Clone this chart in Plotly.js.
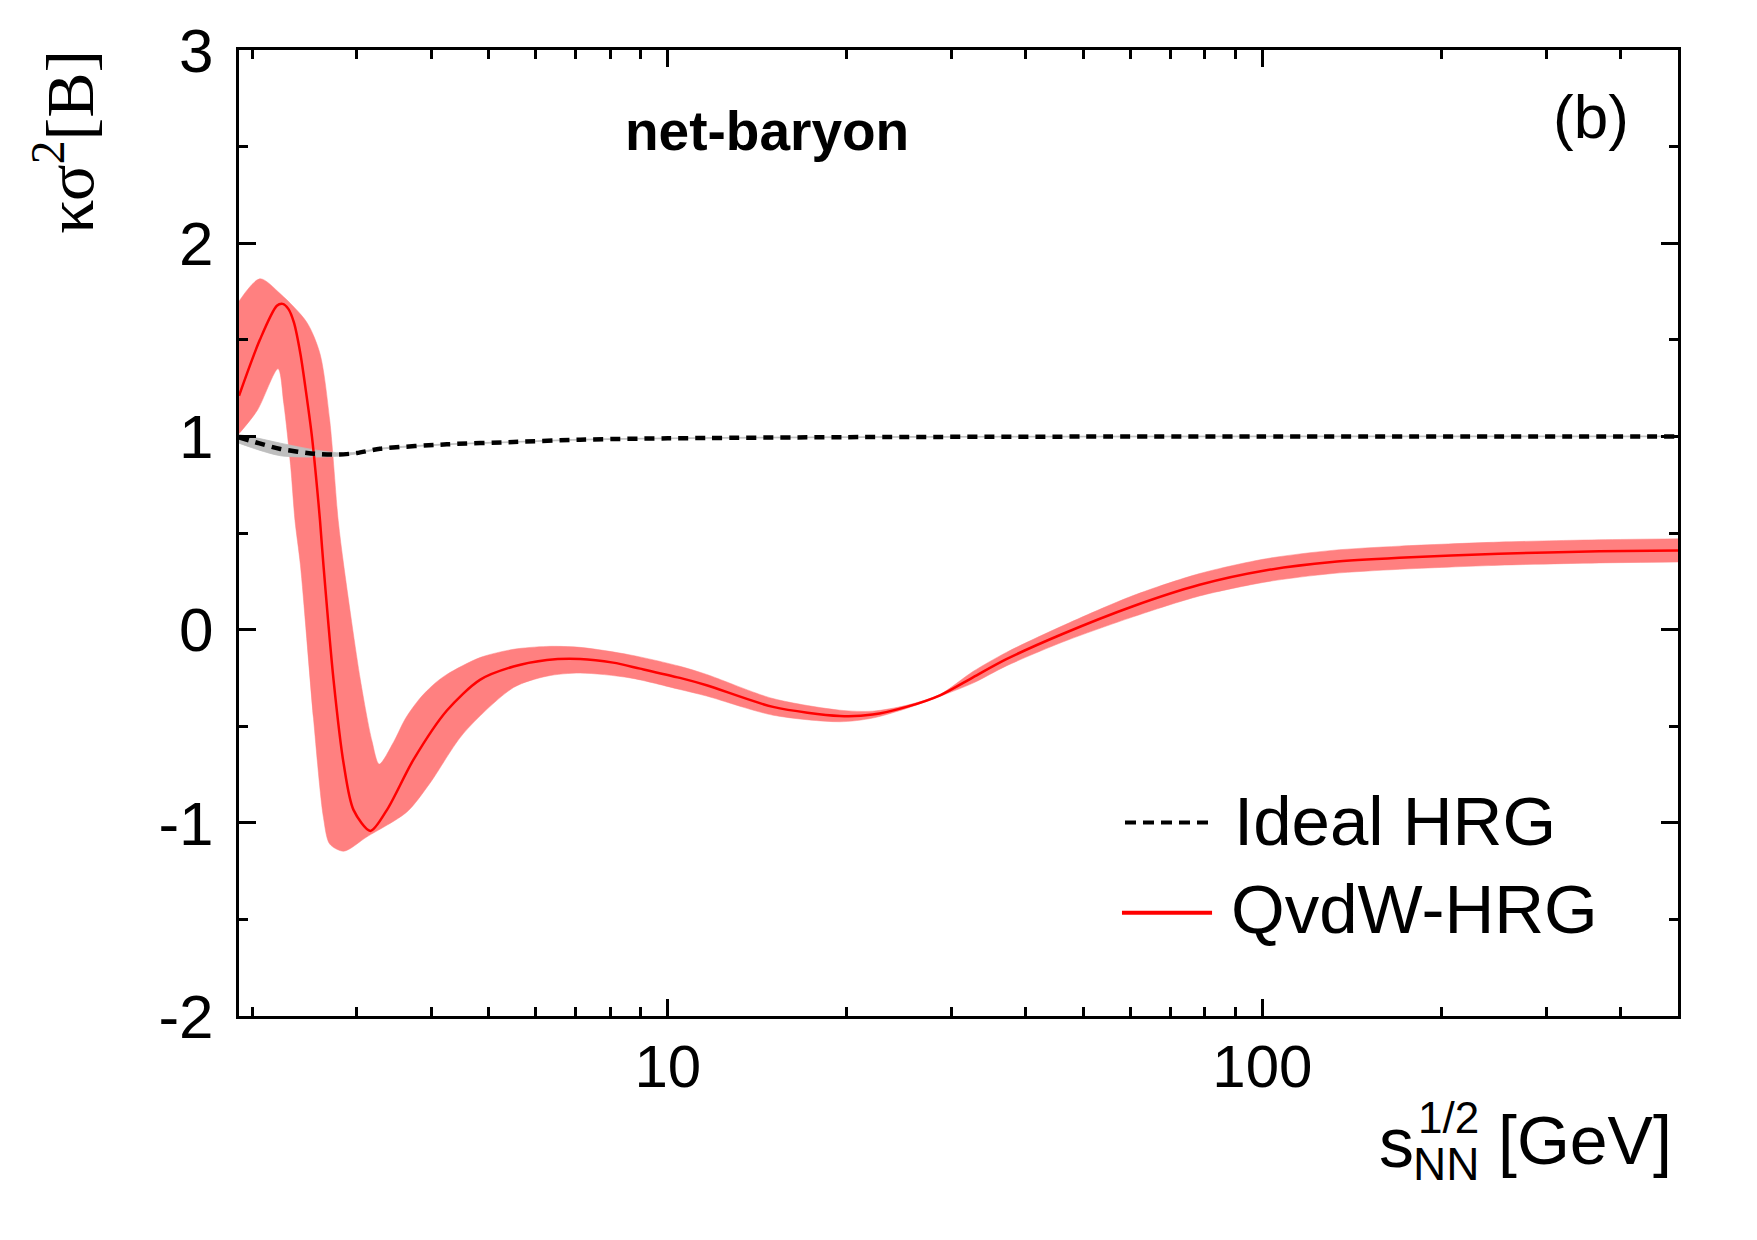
<!DOCTYPE html>
<html>
<head>
<meta charset="utf-8">
<script src="https://cdn.plot.ly/plotly-3.0.1.min.js"></script>
<style>
  html, body { margin: 0; padding: 0; background: #fff; }
  #chart { width: 1757px; height: 1240px; }
</style>
</head>
<body>
<div id="chart"></div>
<script>
// Collision energy sqrt(s_NN) in GeV and kurtosis ratio kappa*sigma^2 of net-baryon fluctuations

// QvdW-HRG central curve
const qvdwX = [1.9, 2.06, 2.2, 2.25, 2.3, 2.35, 2.41, 2.47, 2.52, 2.57, 2.6, 2.635, 2.74, 2.85, 2.96, 3.16, 3.37, 3.73,
  4.25, 4.83, 5.5, 6.26, 7.12, 8.09, 8.98, 10.48, 11.62, 15.03, 19.46, 22.1, 25.2, 28.7, 32.6, 37.1, 46,
  60.6, 78.4, 101.5, 131, 170, 250, 368.6, 500];
const qvdwY = [1.21, 1.50, 1.676, 1.686, 1.66, 1.59, 1.428, 1.203, 1.0, 0.738, 0.565, 0.334, -0.26, -0.696, -0.933, -1.042, -0.933, -0.676,
  -0.419, -0.26, -0.191, -0.157, -0.152, -0.171, -0.202, -0.25, -0.288, -0.40, -0.447, -0.44, -0.40, -0.34, -0.247, -0.153, -0.024,
  0.121, 0.232, 0.307, 0.35, 0.372, 0.393, 0.405, 0.41];

// QvdW-HRG uncertainty band: upper edge
const qvdwUpX = [1.9, 2.06, 2.23, 2.47, 2.6, 2.7, 2.79, 2.85, 3.04, 3.18, 3.27, 3.46, 3.62, 3.83, 4.05, 4.25, 4.83, 5.5, 6.26,
  7.12, 8.64, 10.48, 11.62, 15.03, 19.46, 22.1, 25.2, 28.7, 32.6, 37.1, 46, 60.6, 78.4, 101.5, 131, 170, 250, 368.6, 500];
const qvdwUpY = [1.70, 1.816, 1.738, 1.591, 1.428, 1.083, 0.565, 0.334, -0.26, -0.577, -0.696, -0.58, -0.46, -0.355, -0.28, -0.232, -0.145, -0.102, -0.087,
  -0.092, -0.131, -0.19, -0.232, -0.357, -0.417, -0.422, -0.392, -0.335, -0.217, -0.118, 0.018, 0.176, 0.29, 0.367, 0.41, 0.432, 0.453, 0.465, 0.47];

// QvdW-HRG uncertainty band: lower edge
const qvdwLoX = [1.9, 2.04, 2.21, 2.26, 2.32, 2.36, 2.41, 2.535, 2.635, 2.7, 2.85, 3.12, 3.64, 3.98, 4.53, 5.5, 6.26,
  7.12, 8.64, 10.48, 11.62, 15.03, 19.46, 22.1, 25.2, 28.7, 32.6, 37.1, 46, 60.6, 78.4, 101.5, 131, 170, 250, 368.6, 500];
const qvdwLoY = [1.014, 1.135, 1.35, 1.169, 0.85, 0.565, 0.334, -0.458, -0.973, -1.11, -1.147, -1.072, -0.944, -0.795, -0.538, -0.30, -0.241,
  -0.225, -0.25, -0.31, -0.344, -0.443, -0.477, -0.458, -0.408, -0.345, -0.277, -0.188, -0.066, 0.066, 0.174, 0.247, 0.29, 0.312, 0.333, 0.345, 0.35];

// Ideal HRG curve and its band
const idealX  = [1.9, 2.05, 2.23, 2.55, 2.8, 3.0, 3.28, 4.25, 5.5, 7.12, 10, 20, 50, 100, 500];
const idealY  = [0.995, 0.965, 0.935, 0.91, 0.906, 0.914, 0.936, 0.959, 0.971, 0.983, 0.99, 0.996, 0.999, 1.0, 1.0];
const idealUp = [1.01, 0.99, 0.965, 0.93, 0.915, 0.918, 0.939, 0.961, 0.973, 0.985, 0.992, 0.998, 1.001, 1.002, 1.002];
const idealLo = [0.965, 0.93, 0.90, 0.893, 0.898, 0.91, 0.933, 0.957, 0.969, 0.981, 0.988, 0.994, 0.997, 0.998, 0.998];

// Axis ticks
const xTickVals = [10, 100];
const xTickText = ['10', '100'];
const xMinorVals = [2, 3, 4, 5, 6, 7, 8, 9, 20, 30, 40, 50, 60, 70, 80, 90, 200, 300, 400];
const yTickVals = [-2, -1, 0, 1, 2, 3];
const yTickText = ['-2', '-1', '0', '1', '2', '3'];
const yMinorVals = [-1.5, -0.5, 0.5, 1.5, 2.5];

const seriesNames = ['Ideal HRG', 'QvdW-HRG'];

const SANS = 'Liberation Sans, Arial, Helvetica, sans-serif';
const SERIF = 'Liberation Serif, Times New Roman, serif';
const PINK = 'rgb(255,128,128)';
const GREY = 'rgb(190,190,190)';

// a band is an edge trace plus a second edge trace filled back to it
function bandTraces(loX, loY, upX, upY, color, width) {
  const edge = { color: color, width: width, shape: 'spline', smoothing: 0.8 };
  return [
    { x: loX, y: loY, type: 'scatter', mode: 'lines', line: edge, hoverinfo: 'skip', showlegend: false },
    { x: upX, y: upY, type: 'scatter', mode: 'lines', line: edge, fill: 'tonexty', fillcolor: color,
      hoverinfo: 'skip', showlegend: false }
  ];
}

const traces = []
  .concat(bandTraces(qvdwLoX, qvdwLoY, qvdwUpX, qvdwUpY, PINK, 0.5))
  .concat(bandTraces(idealX, idealLo, idealX, idealUp, GREY, 0.8))
  .concat([
    {
      x: qvdwX, y: qvdwY, type: 'scatter', mode: 'lines', name: seriesNames[1],
      line: { color: '#ff0000', width: 2.5, shape: 'spline', smoothing: 0.8 },
      showlegend: false
    },
    {
      x: idealX, y: idealY, type: 'scatter', mode: 'lines', name: seriesNames[0],
      line: { color: '#000000', width: 4.5, dash: '10px,7px', shape: 'spline', smoothing: 0.7 },
      showlegend: false
    }
  ]);

const axisCommon = {
  showline: true, linecolor: '#000', linewidth: 3, mirror: 'allticks',
  ticks: 'inside', ticklen: 17, tickwidth: 3, tickcolor: '#000',
  showgrid: false, zeroline: false, fixedrange: true
};

const layout = {
  width: 1757, height: 1240,
  margin: { l: 239, r: 79, t: 50, b: 224 },
  paper_bgcolor: '#fff', plot_bgcolor: '#fff',
  showlegend: false,
  xaxis: Object.assign({}, axisCommon, {
    type: 'log',
    range: [Math.log10(1.9), Math.log10(500)],
    tickmode: 'array', tickvals: xTickVals, ticktext: xTickText,
    tickfont: { family: SANS, size: 60, color: '#000' },
    ticklabelstandoff: -4,
    minor: { tickmode: 'array', tickvals: xMinorVals, ticks: 'inside', ticklen: 9, tickwidth: 3, tickcolor: '#000' }
  }),
  yaxis: Object.assign({}, axisCommon, {
    range: [-2, 3],
    tickmode: 'array', tickvals: yTickVals, ticktext: yTickText,
    tickfont: { family: SANS, size: 62, color: '#000' },
    ticklabelstandoff: 10,
    minor: { tickmode: 'array', tickvals: yMinorVals, ticks: 'inside', ticklen: 9, tickwidth: 3, tickcolor: '#000' }
  }),
  shapes: [
    // legend keys
    { type: 'line', xref: 'paper', yref: 'paper', x0: 0.6157, x1: 0.6782, y0: 0.2002, y1: 0.2002,
      line: { color: '#000', width: 4, dash: '11px,7px' } },
    { type: 'line', xref: 'paper', yref: 'paper', x0: 0.6136, x1: 0.6762, y0: 0.107, y1: 0.107,
      line: { color: '#ff0000', width: 4 } }
  ],
  annotations: [
    { text: '<b>net-baryon</b>', xref: 'paper', yref: 'paper', x: 0.367, y: 0.916,
      xanchor: 'center', yanchor: 'middle', showarrow: false,
      font: { family: SANS, size: 55, color: '#000' } },
    { text: '(b)', xref: 'paper', yref: 'paper', x: 0.9395, y: 0.931,
      xanchor: 'center', yanchor: 'middle', showarrow: false,
      font: { family: SANS, size: 62, color: '#000' } },
    { text: seriesNames[0], xref: 'paper', yref: 'paper', x: 0.690, y: 0.201,
      xanchor: 'left', yanchor: 'middle', showarrow: false,
      font: { family: SANS, size: 69, color: '#000' } },
    { text: seriesNames[1], xref: 'paper', yref: 'paper', x: 0.688, y: 0.110,
      xanchor: 'left', yanchor: 'middle', showarrow: false,
      font: { family: SANS, size: 69, color: '#000' } },
    // y-axis title
    { text: 'κσ<sup>2</sup>[B]', xref: 'paper', yref: 'paper', x: -0.121, y: 0.905,
      xanchor: 'center', yanchor: 'middle', textangle: -90, showarrow: false,
      font: { family: SERIF, size: 68, color: '#000' } },
    // x-axis title, built from stacked pieces
    { text: 's', xref: 'paper', yref: 'paper', x: 0.8045, y: -0.131,
      xanchor: 'center', yanchor: 'middle', showarrow: false,
      font: { family: SANS, size: 70, color: '#000' } },
    { text: 'NN', xref: 'paper', yref: 'paper', x: 0.8391, y: -0.1532,
      xanchor: 'center', yanchor: 'middle', showarrow: false,
      font: { family: SANS, size: 46, color: '#000' } },
    { text: '1/2', xref: 'paper', yref: 'paper', x: 0.8405, y: -0.105,
      xanchor: 'center', yanchor: 'middle', showarrow: false,
      font: { family: SANS, size: 44, color: '#000' } },
    { text: '[GeV]', xref: 'paper', yref: 'paper', x: 0.8735, y: -0.1288,
      xanchor: 'left', yanchor: 'middle', showarrow: false,
      font: { family: SANS, size: 68, color: '#000' } }
  ]
};

Plotly.newPlot('chart', traces, layout, { displayModeBar: false, staticPlot: true });
</script>
</body>
</html>
